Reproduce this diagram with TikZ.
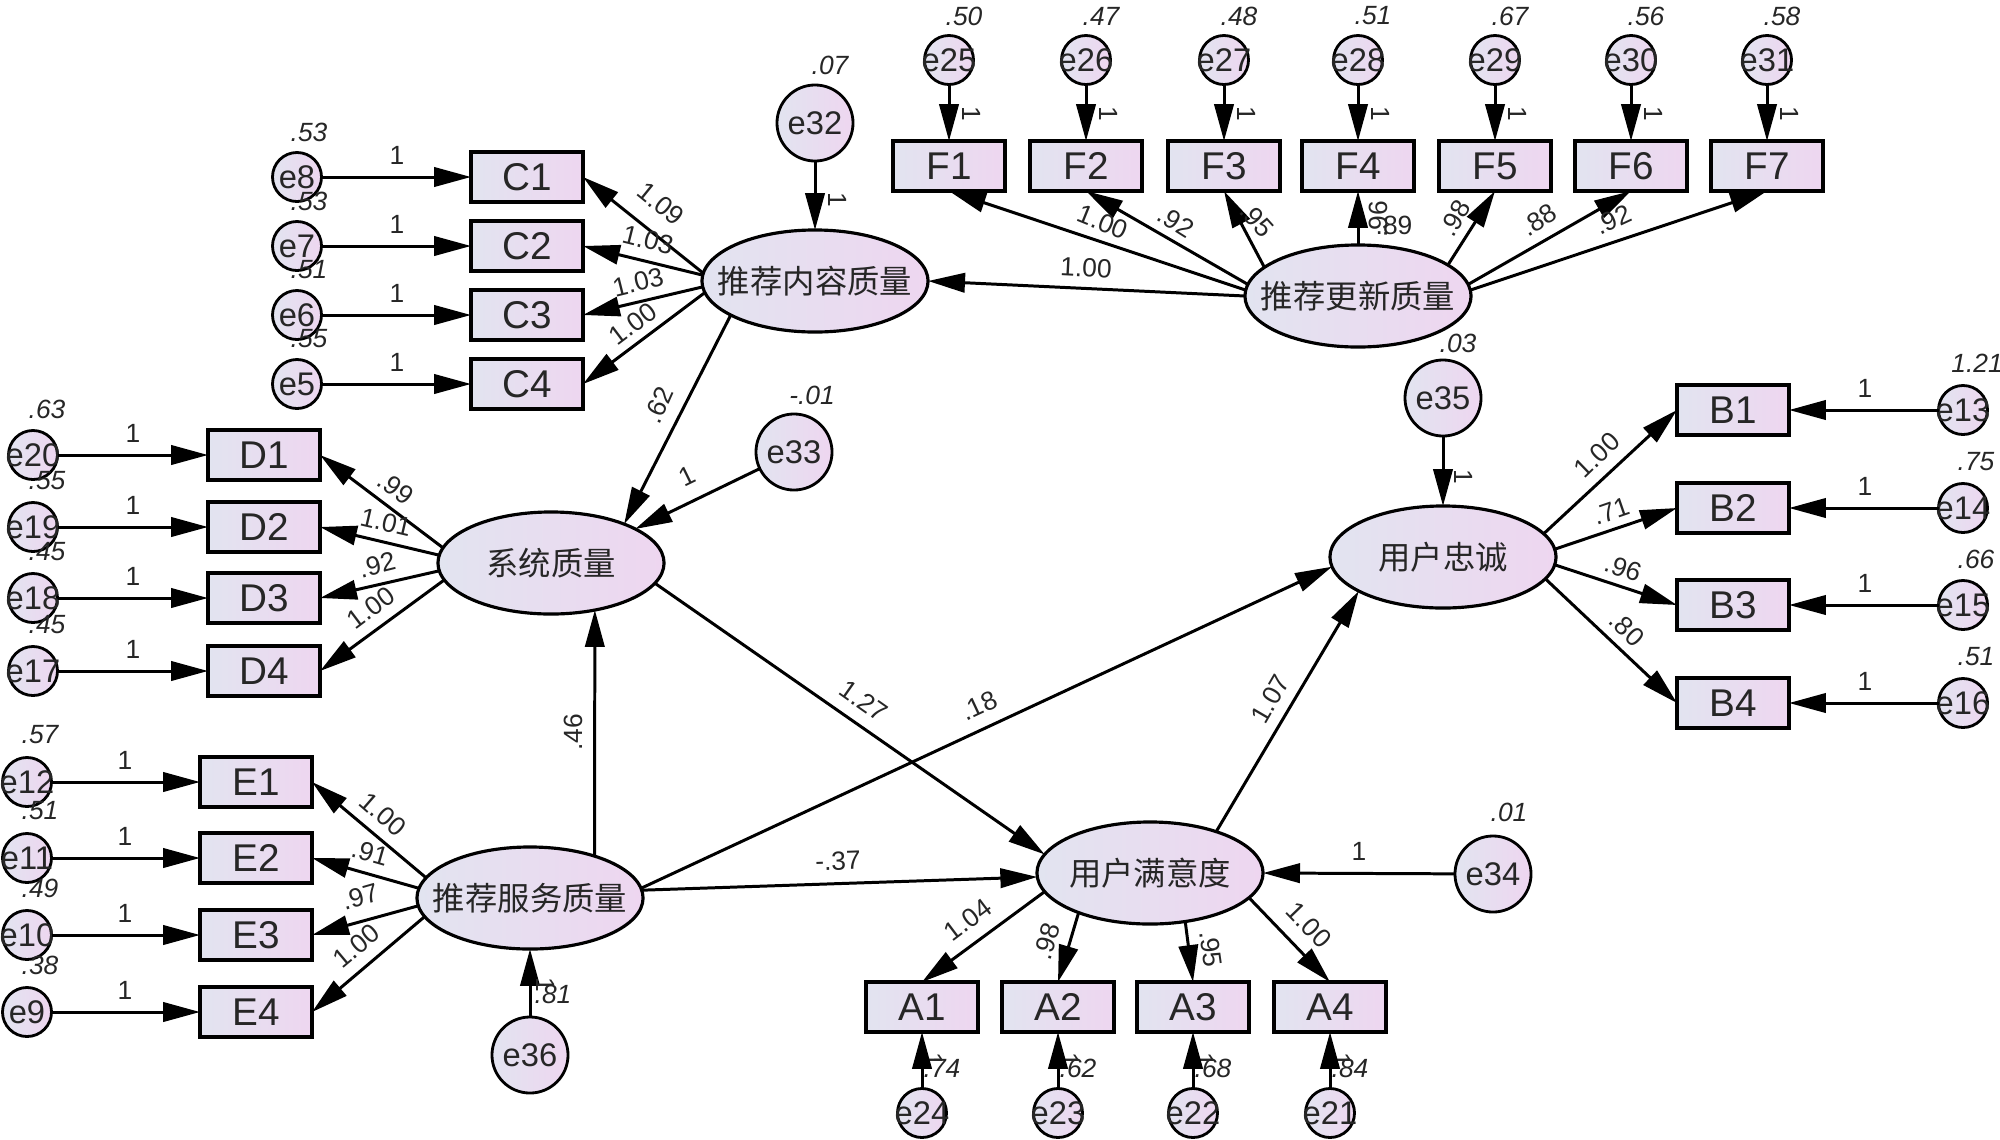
\documentclass[tikz,border=0pt]{standalone}
\usepackage{fontspec}
\setmainfont{Liberation Sans}
\newfontfamily\cjk{Noto Sans CJK SC}
\usepackage{xcolor}
\usepackage{tikz}
\usetikzlibrary{arrows.meta,shapes.geometric}
\definecolor{shadeleft}{RGB}{226,228,240}
\definecolor{shaderight}{RGB}{238,214,240}
\newcommand{\nobox}[1]{\makebox[0pt]{#1}}
\tikzset{
  obs/.style={draw,line width=1pt,rectangle,minimum width=1.12cm,minimum height=0.5cm,inner sep=0pt,outer sep=0pt,left color=shadeleft,right color=shaderight,font=\fontsize{11}{12}\selectfont},
  lat/.style={draw,line width=0.9pt,ellipse,minimum width=2.26cm,minimum height=1.02cm,inner sep=0pt,outer sep=0pt,left color=shadeleft,right color=shaderight,font=\fontsize{9.2}{11}\selectfont\cjk},
  err/.style={draw,line width=0.8pt,circle,minimum size=0.49cm,inner sep=0pt,outer sep=0pt,left color=shadeleft,right color=shaderight,font=\fontsize{9.3}{10}\selectfont},
  bigerr/.style={err,minimum size=0.76cm},
  estlab/.style={inner sep=0pt,font=\fontsize{7.5}{8}\selectfont},
  varlab/.style={inner sep=0pt,font=\fontsize{7.5}{8}\selectfont\itshape},
  arr/.style={-{Triangle[length=10.5pt,width=5.5pt]},line width=0.85pt}
}
\begin{document}
\begin{tikzpicture}[x=0.01cm,y=-0.01cm,every node/.style={text=black!85}]
                \useasboundingbox (0,0) rectangle (2000,1139);
                \node [lat] (cont) at (815,281) {\nobox{推荐内容质量}};
                \node [lat] (upd) at (1358,296) {\nobox{推荐更新质量}};
                \node [lat] (sys) at (551,563) {\nobox{系统质量}};
                \node [lat] (svc) at (530,898) {\nobox{推荐服务质量}};
                \node [lat] (sat) at (1150,873) {\nobox{用户满意度}};
                \node [lat] (loy) at (1443,557) {\nobox{用户忠诚}};
                \node [bigerr] (e32) at (815,123) {e32};
                \node [bigerr] (e33) at (794,452) {e33};
                \node [bigerr] (e34) at (1493,874) {e34};
                \node [bigerr] (e35) at (1443,398) {e35};
                \node [bigerr] (e36) at (530,1055) {e36};
                \node [varlab] (v32) at (830,65) {.07};
                \node [varlab] (v33) at (812,395) {-.01};
                \node [varlab] (v34) at (1509,812) {.01};
                \node [varlab] (v35) at (1458,343) {.03};
                \node [varlab] (v36) at (553,994) {.81};
                \node [obs] (C1) at (527,177) {C1};
                \node [obs] (C2) at (527,246) {C2};
                \node [obs] (C3) at (527,315) {C3};
                \node [obs] (C4) at (527,384) {C4};
                \node [err] (e8) at (297,177) {\nobox{e8}};
                \node [err] (e7) at (297,246) {\nobox{e7}};
                \node [err] (e6) at (297,315) {\nobox{e6}};
                \node [err] (e5) at (297,384) {\nobox{e5}};
                \node [varlab] (v8) at (309,132) {.53};
                \node [varlab] (v7) at (309,201) {.53};
                \node [varlab] (v6) at (309,270) {.51};
                \node [varlab] (v5) at (309,339) {.55};
                \node [estlab] (o8) at (397,155) {1};
                \node [estlab] (o7) at (397,224) {1};
                \node [estlab] (o6) at (397,293) {1};
                \node [estlab] (o5) at (397,362) {1};
                \draw [arr] (e8) to (C1);
                \draw [arr] (e7) to (C2);
                \draw [arr] (e6) to (C3);
                \draw [arr] (e5) to (C4);
                \draw [arr] (cont.176) to (C1.east);
                \draw [arr] (cont.177) to (C2.east);
                \draw [arr] (cont.183) to (C3.east);
                \draw [arr] (cont.186) to (C4.east);
                \node [estlab,rotate=-39] (lC1) at (661,204) {1.09};
                \node [estlab,rotate=-14] (lC2) at (648,240) {1.03};
                \node [estlab,rotate=14] (lC3) at (638,282) {1.03};
                \node [estlab,rotate=37] (lC4) at (633,324) {1.00};
                \node [obs] (D1) at (264,455) {D1};
                \node [obs] (D2) at (264,527) {D2};
                \node [obs] (D3) at (264,598) {D3};
                \node [obs] (D4) at (264,671) {D4};
                \node [err] (e20) at (33,455) {\nobox{e20}};
                \node [err] (e19) at (33,527) {\nobox{e19}};
                \node [err] (e18) at (33,598) {\nobox{e18}};
                \node [err] (e17) at (33,671) {\nobox{e17}};
                \node [varlab] (v20) at (47,409) {.63};
                \node [varlab] (v19) at (47,481) {.55};
                \node [varlab] (v18) at (47,552) {.45};
                \node [varlab] (v17) at (47,625) {.45};
                \node [estlab] (o20) at (133,433) {1};
                \node [estlab] (o19) at (133,505) {1};
                \node [estlab] (o18) at (133,576) {1};
                \node [estlab] (o17) at (133,649) {1};
                \draw [arr] (e20) to (D1);
                \draw [arr] (e19) to (D2);
                \draw [arr] (e18) to (D3);
                \draw [arr] (e17) to (D4);
                \draw [arr] (sys.172) to (D1.east);
                \draw [arr] (sys.176) to (D2.east);
                \draw [arr] (sys.184) to (D3.east);
                \draw [arr] (sys.189) to (D4.east);
                \node [estlab,rotate=-37] (lD1) at (396,488) {.99};
                \node [estlab,rotate=-13] (lD2) at (386,522) {1.01};
                \node [estlab,rotate=14] (lD3) at (377,565) {.92};
                \node [estlab,rotate=37] (lD4) at (371,608) {1.00};
                \node [obs] (E1) at (256,782) {E1};
                \node [obs] (E2) at (256,858) {E2};
                \node [obs] (E3) at (256,935) {E3};
                \node [obs] (E4) at (256,1012) {E4};
                \node [err] (e12) at (27,782) {\nobox{e12}};
                \node [err] (e11) at (27,858) {\nobox{e11}};
                \node [err] (e10) at (27,935) {\nobox{e10}};
                \node [err] (e9) at (27,1012) {\nobox{e9}};
                \node [varlab] (v12) at (40,735) {.57};
                \node [varlab] (v11) at (40,811) {.51};
                \node [varlab] (v10) at (40,888) {.49};
                \node [varlab] (v9) at (40,965) {.38};
                \node [estlab] (o12) at (125,760) {1};
                \node [estlab] (o11) at (125,836) {1};
                \node [estlab] (o10) at (125,913) {1};
                \node [estlab] (o9) at (125,990) {1};
                \draw [arr] (e12) to (E1);
                \draw [arr] (e11) to (E2);
                \draw [arr] (e10) to (E3);
                \draw [arr] (e9) to (E4);
                \draw [arr] (svc.169) to (E1.east);
                \draw [arr] (svc.175) to (E2.east);
                \draw [arr] (svc.184) to (E3.east);
                \draw [arr] (svc.190) to (E4.east);
                \node [estlab,rotate=-41] (lE1) at (383,814) {1.00};
                \node [estlab,rotate=-16] (lE2) at (370,853) {.91};
                \node [estlab,rotate=16] (lE3) at (360,897) {.97};
                \node [estlab,rotate=40] (lE4) at (356,946) {1.00};
                \node [obs] (F1) at (949,166) {F1};
                \node [obs] (F2) at (1086,166) {F2};
                \node [obs] (F3) at (1224,166) {F3};
                \node [obs] (F4) at (1358,166) {F4};
                \node [obs] (F5) at (1495,166) {F5};
                \node [obs] (F6) at (1631,166) {F6};
                \node [obs] (F7) at (1767,166) {F7};
                \node [err] (e25) at (949,60) {\nobox{e25}};
                \node [err] (e26) at (1086,60) {\nobox{e26}};
                \node [err] (e27) at (1224,60) {\nobox{e27}};
                \node [err] (e28) at (1358,60) {\nobox{e28}};
                \node [err] (e29) at (1495,60) {\nobox{e29}};
                \node [err] (e30) at (1631,60) {\nobox{e30}};
                \node [err] (e31) at (1767,60) {\nobox{e31}};
                \node [varlab] (v25) at (964,16) {.50};
                \node [varlab] (v26) at (1101,16) {.47};
                \node [varlab] (v27) at (1239,16) {.48};
                \node [varlab] (v28) at (1373,16) {.51};
                \node [varlab] (v29) at (1510,16) {.67};
                \node [varlab] (v30) at (1646,16) {.56};
                \node [varlab] (v31) at (1782,16) {.58};
                \node [estlab,rotate=-90] (o25) at (972,114) {1};
                \node [estlab,rotate=-90] (o26) at (1109,114) {1};
                \node [estlab,rotate=-90] (o27) at (1247,114) {1};
                \node [estlab,rotate=-90] (o28) at (1381,114) {1};
                \node [estlab,rotate=-90] (o29) at (1518,114) {1};
                \node [estlab,rotate=-90] (o30) at (1654,114) {1};
                \node [estlab,rotate=-90] (o31) at (1790,114) {1};
                \draw [arr] (e25) to (F1);
                \draw [arr] (e26) to (F2);
                \draw [arr] (e27) to (F3);
                \draw [arr] (e28) to (F4);
                \draw [arr] (e29) to (F5);
                \draw [arr] (e30) to (F6);
                \draw [arr] (e31) to (F7);
                \draw [arr] (upd.177) to (F1.south);
                \draw [arr] (upd.174) to (F2.south);
                \draw [arr] (upd.163) to (F3.south);
                \draw [arr] (upd.north) to (F4.south);
                \draw [arr] (upd.19) to (F5.south);
                \draw [arr] (upd.6) to (F6.south);
                \draw [arr] (upd.3) to (F7.south);
                \node [estlab,rotate=-22] (lF1) at (1103,222) {1.00};
                \node [estlab,rotate=-32] (lF2) at (1176,222) {.92};
                \node [estlab,rotate=-48] (lF3) at (1257,220) {.95};
                \node [estlab,rotate=90] (lF4) at (1378,219) {.96};
                \node [estlab] (lF4b) at (1394,225) {.89};
                \node [estlab,rotate=60] (lF5) at (1455,218) {.98};
                \node [estlab,rotate=32] (lF6) at (1539,220) {.88};
                \node [estlab,rotate=25] (lF7) at (1613,220) {.92};
                \node [obs] (A1) at (922,1007) {A1};
                \node [obs] (A2) at (1058,1007) {A2};
                \node [obs] (A3) at (1193,1007) {A3};
                \node [obs] (A4) at (1330,1007) {A4};
                \node [err] (e24) at (922,1113) {\nobox{e24}};
                \node [err] (e23) at (1058,1113) {\nobox{e23}};
                \node [err] (e22) at (1193,1113) {\nobox{e22}};
                \node [err] (e21) at (1330,1113) {\nobox{e21}};
                \node [varlab] (v24) at (942,1068) {.74};
                \node [varlab] (v23) at (1078,1068) {.62};
                \node [varlab] (v22) at (1213,1068) {.68};
                \node [varlab] (v21) at (1350,1068) {.84};
                \node [estlab,rotate=-90] (o24) at (934,1060) {1};
                \node [estlab,rotate=-90] (o23) at (1070,1060) {1};
                \node [estlab,rotate=-90] (o22) at (1205,1060) {1};
                \node [estlab,rotate=-90] (o21) at (1342,1060) {1};
                \draw [arr] (e24) to (A1);
                \draw [arr] (e23) to (A2);
                \draw [arr] (e22) to (A3);
                \draw [arr] (e21) to (A4);
                \draw [arr] (sat.190) to (A1.north);
                \draw [arr] (sat.209) to (A2.north);
                \draw [arr] (sat.-54) to (A3.north);
                \draw [arr] (sat.-14) to (A4.north);
                \node [estlab,rotate=37] (lA1) at (968,920) {1.04};
                \node [estlab,rotate=73] (lA2) at (1047,941) {.98};
                \node [estlab,rotate=-82] (lA3) at (1211,949) {.95};
                \node [estlab,rotate=-46] (lA4) at (1309,925) {1.00};
                \node [obs] (B1) at (1733,410) {B1};
                \node [obs] (B2) at (1733,508) {B2};
                \node [obs] (B3) at (1733,605) {B3};
                \node [obs] (B4) at (1733,703) {B4};
                \node [err] (e13) at (1963,410) {\nobox{e13}};
                \node [err] (e14) at (1963,508) {\nobox{e14}};
                \node [err] (e15) at (1963,605) {\nobox{e15}};
                \node [err] (e16) at (1963,703) {\nobox{e16}};
                \node [varlab] (v13) at (1977,363) {1.21};
                \node [varlab] (v14) at (1976,462) {.75};
                \node [varlab] (v15) at (1976,559) {.66};
                \node [varlab] (v16) at (1976,657) {.51};
                \node [estlab] (o13) at (1865,388) {1};
                \node [estlab] (o14) at (1865,486) {1};
                \node [estlab] (o15) at (1865,583) {1};
                \node [estlab] (o16) at (1865,681) {1};
                \draw [arr] (e13) to (B1);
                \draw [arr] (e14) to (B2);
                \draw [arr] (e15) to (B3);
                \draw [arr] (e16) to (B4);
                \draw [arr] (loy.13) to (B1.west);
                \draw [arr] (loy.4) to (B2.west);
                \draw [arr] (loy.-4) to (B3.west);
                \draw [arr] (loy.-12) to (B4.west);
                \node [estlab,rotate=44] (lB1) at (1597,455) {1.00};
                \node [estlab,rotate=19] (lB2) at (1611,511) {.71};
                \node [estlab,rotate=-19] (lB3) at (1623,568) {.96};
                \node [estlab,rotate=-44] (lB4) at (1627,629) {.80};
                \draw [arr] (e32) to (cont.north);
                \draw [arr] (e33) to (sys.22);
                \draw [arr] (e34) to (sat.east);
                \draw [arr] (e35) to (loy.north);
                \draw [arr] (e36) to (svc.south);
                \node [estlab,rotate=-90] (o32) at (838,200) {1};
                \node [estlab,rotate=26] (o33) at (687,476) {1};
                \node [estlab] (o34) at (1359,851) {1};
                \node [estlab,rotate=-90] (o35) at (1464,477) {1};
                \node [estlab,rotate=-90] (o36) at (546,985) {1};
                \draw [arr] (upd.west) to (cont.east);
                \draw [arr] (cont.202) to (sys.28);
                \draw [arr] (svc.33) to (sys.-47);
                \draw [arr] (sys.-11) to (sat.170);
                \draw [arr] (svc.5) to (loy.185);
                \draw [arr] (svc.4) to (sat.182);
                \draw [arr] (sat.32) to (loy.202);
                \node [estlab,rotate=-3] (lupd) at (1086,268) {1.00};
                \node [estlab,rotate=66] (lcont) at (659,405) {.62};
                \node [estlab,rotate=90] (lsvc) at (573,732) {.46};
                \node [estlab,rotate=-35] (lsys) at (864,701) {1.27};
                \node [estlab,rotate=25] (lsvcl) at (979,706) {.18};
                \node [estlab,rotate=2] (lsvcs) at (838,861) {-.37};
                \node [estlab,rotate=60] (lsat) at (1270,699) {1.07};
            \end{tikzpicture}
\end{document}
